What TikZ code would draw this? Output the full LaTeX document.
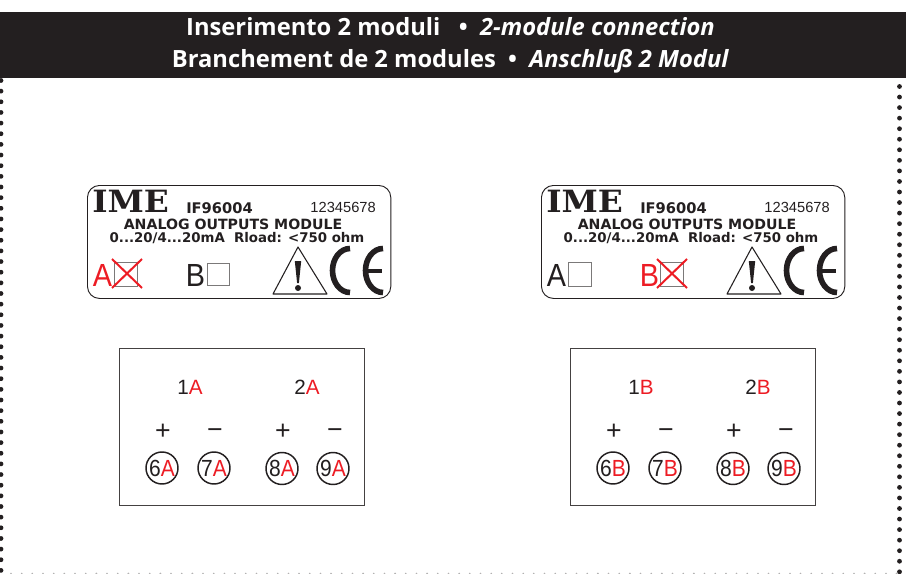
\documentclass[tikz,border=0pt]{standalone}
\usepackage{fontspec}
\setmainfont{Liberation Sans}
\newfontfamily\headfont{Open Sans}
\newfontfamily\platefont{DejaVu Sans}
\newfontfamily\logofont{DejaVu Serif}
\definecolor{ink}{HTML}{231F20}
\definecolor{imered}{HTML}{ED1C24}
\tikzset{
  x=0.75pt,y=-0.75pt,
  headtext/.style={text=white,inner sep=0pt,anchor=base,font=\headfont\fontsize{17.8}{20}\selectfont\bfseries},
  platetext/.style={text=ink,inner sep=0pt,anchor=base,font=\platefont\bfseries\fontsize{10.6}{12}\selectfont},
  rangetext/.style={platetext,font=\platefont\bfseries\fontsize{10}{12}\selectfont},
  modeltext/.style={platetext,anchor=base west,font=\platefont\bfseries\fontsize{11}{13}\selectfont},
  serialtext/.style={text=ink,inner sep=0pt,anchor=base east,font=\fontsize{11}{13}\selectfont},
  logotext/.style={text=ink,inner sep=0pt,anchor=base west,font=\logofont\bfseries\fontsize{23}{25}\selectfont},
  platebox/.style={draw=ink,line width=0.7pt,rounded corners=9pt},
  checkbox/.style={draw=ink!60,line width=0.6pt,fill=white},
  crossmark/.style={draw=imered,line width=1.5pt},
  bigletter/.style={inner sep=0pt,anchor=base west,font=\fontsize{24}{26}\selectfont},
  termbox/.style={draw=ink!85,line width=0.8pt},
  termlabel/.style={text=ink,inner sep=0pt,anchor=base,font=\fontsize{15.5}{17}\selectfont},
  signlabel/.style={text=ink,inner sep=0pt,anchor=center,font=\fontsize{20}{22}\selectfont},
  termcircle/.style={draw=ink,line width=1.1pt,circle,minimum size=24pt,inner sep=0pt,text=ink,font=\fontsize{17.5}{19}\selectfont},
  cemark/.style={draw=ink,line width=4.2pt},
}
\newcommand{\narrowed}[1]{\scalebox{0.9}[1]{#1}}
\newcommand{\plate}[2]{% prefix, box x
  \begin{scope}[shift={(#2,0)}]
    \node[platebox,minimum width=227.5pt,minimum height=84.75pt,inner sep=0pt,anchor=north west] (#1box) at (0,185) {};
    \node[logotext] (#1logo) at (5,212.5) {\scalebox{1.07}[1]{IME}};
    \node[modeltext] (#1model) at (99,213) {IF96004};
    \node[serialtext] (#1serial) at (289,212) {12345678};
    \node[platetext] (#1title) at (146,229) {ANALOG OUTPUTS MODULE};
    \node[rangetext] (#1range) at (150,242) {0...20/4...20mA\ \ Rload: <750 ohm};
    \draw[draw=ink,line width=0.8pt,line join=round,fill=white] (211,247) -- (186,294) -- (240,294) -- cycle;
    \fill[ink] (207.8,261) -- (214.2,261) -- (211.9,283) -- (210.1,283) -- cycle;
    \fill[ink] (211,288) circle (3);
    \draw[cemark] (263,248.5) arc[start angle=270,end angle=90,x radius=17.5,y radius=22];
    \draw[cemark] (296,248.5) arc[start angle=270,end angle=90,x radius=17.5,y radius=22];
    \draw[draw=ink,line width=3pt] (279,270.5) -- (295,270.5);
  \end{scope}
}
\newcommand{\terminals}[3]{% prefix, x shift, letter
  \begin{scope}[shift={(#2,0)}]
    \node[termbox,minimum width=183.5pt,minimum height=117.75pt,inner sep=0pt,anchor=north west] (#1box) at (119,348) {};
    \node[termlabel] (#1one) at (190,394) {1\textcolor{imered}{#3}};
    \node[termlabel] (#1two) at (307,394) {2\textcolor{imered}{#3}};
    \node[signlabel] (#1p1) at (163,431.5) {+};
    \node[signlabel] (#1m1) at (215,434) {\textminus};
    \node[signlabel] (#1p2) at (283,431.5) {+};
    \node[signlabel] (#1m2) at (335,434) {\textminus};
    \node[termcircle] (#1c6) at (162,468) {\narrowed{6\textcolor{imered}{#3}}};
    \node[termcircle] (#1c7) at (214,468) {\narrowed{7\textcolor{imered}{#3}}};
    \node[termcircle] (#1c8) at (282,468.5) {\narrowed{8\textcolor{imered}{#3}}};
    \node[termcircle] (#1c9) at (333,468.5) {\narrowed{9\textcolor{imered}{#3}}};
  \end{scope}
}
\begin{document}
\begin{tikzpicture}
\useasboundingbox (0,0) rectangle (906,574);
\fill[white] (0,0) rectangle (906,574);
% dotted frame
\foreach \k in {0,...,46}{
  \fill[ink] (1,{80.5+10.65*\k}) circle (2.4);
  \fill[ink] (899.5,{86.5+10.55*\k}) circle (2.4);
}
\foreach \k in {0,...,83}{
  \fill[ink!35] ({11+10.67*\k},573.5) circle (0.9);
}
% header
\fill[ink] (0,12) rectangle (906,78);
\node[headtext] (head1) at (450.5,36) {Inserimento 2 moduli\ \ \ •\ \ \textit{2-module connection}};
\node[headtext] (head2) at (450.5,68) {Branchement de 2 modules\ \ •\ \ \textit{Anschluß 2 Modul}};
% plates
\plate{pa}{87}
\plate{pb}{541}
% left plate selectors
\node[bigletter,text=imered] (paA) at (92.5,286) {\narrowed{A}};
\node[checkbox,minimum size=17.5pt,inner sep=0pt] (paAbox) at (126,274.5) {};
\draw[crossmark] (112,259) -- (142,288) (142,259) -- (112,288);
\node[bigletter,text=ink] (paB) at (185.5,286) {\narrowed{B}};
\node[checkbox,minimum size=17pt,inner sep=0pt] (paBbox) at (218.5,274.5) {};
% right plate selectors
\node[bigletter,text=ink] (pbA) at (546.5,286) {\narrowed{A}};
\node[checkbox,minimum size=17.5pt,inner sep=0pt] (pbAbox) at (580,274.5) {};
\node[bigletter,text=imered] (pbB) at (639.5,286) {\narrowed{B}};
\node[checkbox,minimum size=17.5pt,inner sep=0pt] (pbBbox) at (672,274.5) {};
\draw[crossmark] (657,259) -- (687,288) (687,259) -- (657,288);
% terminals
\terminals{ta}{0}{A}
\terminals{tb}{451}{B}
\end{tikzpicture}
\end{document}
